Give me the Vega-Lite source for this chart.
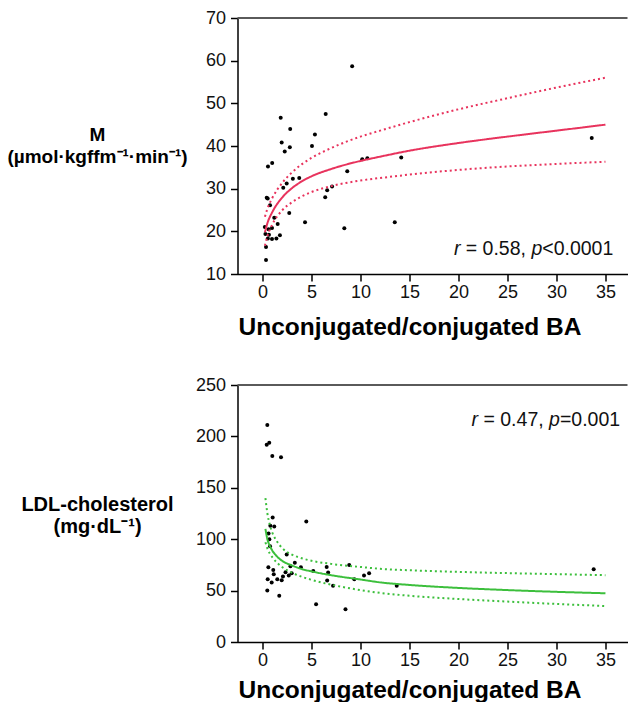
{
  "$schema": "https://vega.github.io/schema/vega-lite/v6.json",
  "padding": {"left": 6.5, "top": 9, "right": 0, "bottom": 0},
  "spacing": 37,
  "config": {
    "font": "Liberation Sans",
    "view": {"stroke": null},
    "axis": {
      "grid": false,
      "domainColor": "#000000",
      "domainWidth": 1.5,
      "tickColor": "#000000",
      "tickWidth": 1.5,
      "labelColor": "#111111",
      "labelFontSize": 18,
      "labelFont": "Liberation Sans",
      "titleFont": "Liberation Sans",
      "titleFontSize": 19,
      "titleFontWeight": "bold",
      "titleColor": "#000000",
      "labelOverlap": false,
      "labelFlush": false
    }
  },
  "datasets": {
    "top_points": [
      {"x": 9.15, "y": 58.7}, {"x": 1.86, "y": 46.6}, {"x": 6.45, "y": 47.5}, {"x": 2.83, "y": 44.0},
      {"x": 5.35, "y": 42.7}, {"x": 1.96, "y": 40.8}, {"x": 5.05, "y": 40.0}, {"x": 2.79, "y": 39.7},
      {"x": 2.27, "y": 38.7}, {"x": 0.99, "y": 36.0}, {"x": 0.56, "y": 35.2}, {"x": 10.18, "y": 36.9},
      {"x": 10.7, "y": 37.1}, {"x": 14.16, "y": 37.3}, {"x": 8.65, "y": 34.1}, {"x": 3.75, "y": 32.5},
      {"x": 3.1, "y": 32.3}, {"x": 2.47, "y": 31.2}, {"x": 2.12, "y": 30.2}, {"x": 0.43, "y": 27.9},
      {"x": 0.53, "y": 27.7}, {"x": 6.6, "y": 29.6}, {"x": 7.1, "y": 30.5}, {"x": 6.4, "y": 28.0},
      {"x": 0.77, "y": 26.1}, {"x": 1.2, "y": 23.2}, {"x": 2.73, "y": 24.3}, {"x": 4.34, "y": 22.1},
      {"x": 8.35, "y": 20.7}, {"x": 13.5, "y": 22.1}, {"x": 1.55, "y": 21.7}, {"x": 0.24, "y": 21.0},
      {"x": 0.62, "y": 20.5}, {"x": 0.97, "y": 20.8}, {"x": 0.3, "y": 19.4}, {"x": 0.66, "y": 19.2},
      {"x": 0.55, "y": 18.3}, {"x": 0.97, "y": 18.2}, {"x": 1.42, "y": 18.3}, {"x": 1.78, "y": 19.1},
      {"x": 0.36, "y": 16.3}, {"x": 0.36, "y": 13.3}, {"x": 33.6, "y": 41.9}
    ],
    "top_curves": [
      {"band": "fit", "x": 0.25, "y": 19.8}, {"band": "fit", "x": 0.5, "y": 21.9}, {"band": "fit", "x": 1, "y": 24.5},
      {"band": "fit", "x": 2, "y": 27.9}, {"band": "fit", "x": 3, "y": 30.1}, {"band": "fit", "x": 4, "y": 31.7},
      {"band": "fit", "x": 5, "y": 32.9}, {"band": "fit", "x": 7, "y": 34.6}, {"band": "fit", "x": 10, "y": 36.5},
      {"band": "fit", "x": 12, "y": 37.5}, {"band": "fit", "x": 15, "y": 38.9}, {"band": "fit", "x": 20, "y": 40.7},
      {"band": "fit", "x": 25, "y": 42.2}, {"band": "fit", "x": 30, "y": 43.6}, {"band": "fit", "x": 35, "y": 45.0},
      {"band": "upper", "x": 0.25, "y": 23.4}, {"band": "upper", "x": 0.5, "y": 25.3}, {"band": "upper", "x": 1, "y": 27.8},
      {"band": "upper", "x": 2, "y": 31.3}, {"band": "upper", "x": 3, "y": 33.8}, {"band": "upper", "x": 4, "y": 35.7},
      {"band": "upper", "x": 5, "y": 37.2}, {"band": "upper", "x": 7, "y": 39.5}, {"band": "upper", "x": 10, "y": 42.2},
      {"band": "upper", "x": 12, "y": 43.6}, {"band": "upper", "x": 15, "y": 45.6}, {"band": "upper", "x": 20, "y": 48.6},
      {"band": "upper", "x": 25, "y": 51.2}, {"band": "upper", "x": 30, "y": 53.7}, {"band": "upper", "x": 35, "y": 56.0},
      {"band": "lower", "x": 0.25, "y": 16.6}, {"band": "lower", "x": 0.5, "y": 18.9}, {"band": "lower", "x": 1, "y": 21.6},
      {"band": "lower", "x": 2, "y": 24.9}, {"band": "lower", "x": 3, "y": 26.8}, {"band": "lower", "x": 4, "y": 28.2},
      {"band": "lower", "x": 5, "y": 29.2}, {"band": "lower", "x": 7, "y": 30.6}, {"band": "lower", "x": 10, "y": 31.9},
      {"band": "lower", "x": 12, "y": 32.5}, {"band": "lower", "x": 15, "y": 33.3}, {"band": "lower", "x": 20, "y": 34.4},
      {"band": "lower", "x": 25, "y": 35.2}, {"band": "lower", "x": 30, "y": 35.8}, {"band": "lower", "x": 35, "y": 36.3}
    ],
    "bottom_points": [
      {"x": 0.49, "y": 211}, {"x": 0.43, "y": 191.8}, {"x": 0.69, "y": 193.8}, {"x": 1.0, "y": 181},
      {"x": 1.89, "y": 179.8}, {"x": 4.47, "y": 117.1}, {"x": 1.04, "y": 121}, {"x": 0.8, "y": 113},
      {"x": 1.2, "y": 112.3}, {"x": 0.62, "y": 105.5}, {"x": 0.7, "y": 100}, {"x": 0.77, "y": 93.2},
      {"x": 2.47, "y": 85.0}, {"x": 3.3, "y": 77.0}, {"x": 0.6, "y": 72.8}, {"x": 3.92, "y": 72.8},
      {"x": 2.85, "y": 73.8}, {"x": 1.1, "y": 70.1}, {"x": 1.15, "y": 66.0}, {"x": 5.18, "y": 69.1},
      {"x": 6.55, "y": 73.0}, {"x": 6.7, "y": 67.7}, {"x": 8.85, "y": 75}, {"x": 2.35, "y": 67.8},
      {"x": 2.68, "y": 64.6}, {"x": 2.98, "y": 66.9}, {"x": 2.09, "y": 63.6}, {"x": 1.51, "y": 61},
      {"x": 1.96, "y": 60}, {"x": 0.53, "y": 61}, {"x": 0.94, "y": 57.9}, {"x": 6.6, "y": 59.8},
      {"x": 7.2, "y": 54.6}, {"x": 9.37, "y": 61.1}, {"x": 10.36, "y": 64.8}, {"x": 10.88, "y": 66.9},
      {"x": 13.7, "y": 54.8}, {"x": 0.49, "y": 50}, {"x": 1.71, "y": 45.0}, {"x": 5.47, "y": 36.8},
      {"x": 8.47, "y": 31.8}, {"x": 33.8, "y": 70.8}
    ],
    "bottom_curves": [
      {"band": "fit", "x": 0.3, "y": 110}, {"band": "fit", "x": 0.5, "y": 100}, {"band": "fit", "x": 0.75, "y": 93.5},
      {"band": "fit", "x": 1, "y": 89}, {"band": "fit", "x": 1.5, "y": 83}, {"band": "fit", "x": 2, "y": 79},
      {"band": "fit", "x": 3, "y": 74.5}, {"band": "fit", "x": 4, "y": 71}, {"band": "fit", "x": 5, "y": 68.7},
      {"band": "fit", "x": 7, "y": 65}, {"band": "fit", "x": 10, "y": 60.8}, {"band": "fit", "x": 12, "y": 58},
      {"band": "fit", "x": 15, "y": 55.5}, {"band": "fit", "x": 20, "y": 52.6}, {"band": "fit", "x": 25, "y": 50.5},
      {"band": "fit", "x": 30, "y": 48.8}, {"band": "fit", "x": 35, "y": 47.4},
      {"band": "upper", "x": 0.3, "y": 140}, {"band": "upper", "x": 0.5, "y": 125}, {"band": "upper", "x": 0.75, "y": 114},
      {"band": "upper", "x": 1, "y": 106.5}, {"band": "upper", "x": 1.5, "y": 97.5}, {"band": "upper", "x": 2, "y": 91.5},
      {"band": "upper", "x": 3, "y": 85}, {"band": "upper", "x": 4, "y": 81.5}, {"band": "upper", "x": 5, "y": 79},
      {"band": "upper", "x": 7, "y": 76}, {"band": "upper", "x": 10, "y": 73}, {"band": "upper", "x": 12, "y": 71.2},
      {"band": "upper", "x": 15, "y": 69.8}, {"band": "upper", "x": 20, "y": 68.2}, {"band": "upper", "x": 25, "y": 67},
      {"band": "upper", "x": 30, "y": 66}, {"band": "upper", "x": 35, "y": 65},
      {"band": "lower", "x": 0.3, "y": 97}, {"band": "lower", "x": 0.5, "y": 91}, {"band": "lower", "x": 0.75, "y": 86},
      {"band": "lower", "x": 1, "y": 82.5}, {"band": "lower", "x": 1.5, "y": 77}, {"band": "lower", "x": 2, "y": 73},
      {"band": "lower", "x": 3, "y": 67.5}, {"band": "lower", "x": 4, "y": 63.5}, {"band": "lower", "x": 5, "y": 60.5},
      {"band": "lower", "x": 7, "y": 55.8}, {"band": "lower", "x": 10, "y": 50.5}, {"band": "lower", "x": 12, "y": 47.8},
      {"band": "lower", "x": 15, "y": 45}, {"band": "lower", "x": 20, "y": 41.8}, {"band": "lower", "x": 25, "y": 39.3},
      {"band": "lower", "x": 30, "y": 37}, {"band": "lower", "x": 35, "y": 35}
    ]
  },
  "vconcat": [
    {
      "width": 390,
      "height": 256,
      "layer": [
        {
          "data": {"name": "top_points"},
          "mark": {"type": "circle", "color": "#000000", "size": 16, "opacity": 1},
          "encoding": {
            "x": {
              "field": "x", "type": "quantitative",
              "scale": {"domain": [-2.55, 37.25], "nice": false, "zero": false},
              "axis": {
                "values": [0, 2.5, 5, 7.5, 10, 12.5, 15, 17.5, 20, 22.5, 25, 27.5, 30, 32.5, 35],
                "labelExpr": "datum.value % 5 === 0 ? format(datum.value, 'd') : ''",
                "tickSize": {"condition": {"test": "datum.value % 5 === 0", "value": 7}, "value": 4},
                "labelPadding": 2,
                "title": "Unconjugated/conjugated BA",
                "titleFontSize": 24.5,
                "titleX": 172, "titleY": 60, "titleAlign": "center", "titleBaseline": "alphabetic", "titleAnchor": null
              }
            },
            "y": {
              "field": "y", "type": "quantitative",
              "scale": {"domain": [10, 70], "nice": false, "zero": false},
              "axis": {
                "values": [10, 15, 20, 25, 30, 35, 40, 45, 50, 55, 60, 65, 70],
                "labelExpr": "datum.value % 10 === 0 ? format(datum.value, 'd') : ''",
                "tickSize": {"condition": {"test": "datum.value % 10 === 0", "value": 7}, "value": 4},
                "labelPadding": 5,
                "title": ["M", "(µmol·kgffm⁻¹·min⁻¹)"],
                "titleFontSize": 19,
                "titleAngle": 0, "titleX": -140.5, "titleY": 122.5, "titleAlign": "center",
                "titleBaseline": "alphabetic", "titleLineHeight": 21.5, "titleAnchor": null
              }
            }
          }
        },
        {
          "data": {"name": "top_curves"},
          "mark": {"type": "line", "color": "#e8335d", "strokeWidth": 2, "interpolate": "monotone", "strokeCap": "butt"},
          "encoding": {
            "x": {"field": "x", "type": "quantitative"},
            "y": {"field": "y", "type": "quantitative"},
            "detail": {"field": "band"},
            "strokeDash": {"field": "band", "type": "nominal", "scale": {"domain": ["fit", "upper", "lower"], "range": [[1, 0], [2, 3], [2, 3]]}, "legend": null}
          }
        },
        {
          "data": {"values": [{}]},
          "mark": {"type": "rule", "color": "#5a5a5a", "strokeWidth": 2},
          "encoding": {"y": {"datum": 70}}
        },
        {
          "data": {"values": [{}]},
          "mark": {"type": "text", "align": "right", "baseline": "alphabetic", "fontSize": 19.5, "color": "#111111"},
          "encoding": {"x": {"datum": 35.8}, "y": {"datum": 14.5}, "text": {"value": "<0.0001"}}
        },
        {
          "data": {"values": [{}]},
          "mark": {"type": "text", "align": "right", "baseline": "alphabetic", "fontSize": 19.5, "fontStyle": "italic", "color": "#111111", "dx": -71.0},
          "encoding": {"x": {"datum": 35.8}, "y": {"datum": 14.5}, "text": {"value": "p"}}
        },
        {
          "data": {"values": [{}]},
          "mark": {"type": "text", "align": "right", "baseline": "alphabetic", "fontSize": 19.5, "color": "#111111", "dx": -87.3},
          "encoding": {"x": {"datum": 35.8}, "y": {"datum": 14.5}, "text": {"value": "= 0.58,"}}
        },
        {
          "data": {"values": [{}]},
          "mark": {"type": "text", "align": "right", "baseline": "alphabetic", "fontSize": 19.5, "fontStyle": "italic", "color": "#111111", "dx": -152.9},
          "encoding": {"x": {"datum": 35.8}, "y": {"datum": 14.5}, "text": {"value": "r"}}
        }
      ]
    },
    {
      "width": 390,
      "height": 257,
      "layer": [
        {
          "data": {"name": "bottom_points"},
          "mark": {"type": "circle", "color": "#000000", "size": 16, "opacity": 1},
          "encoding": {
            "x": {
              "field": "x", "type": "quantitative",
              "scale": {"domain": [-2.55, 37.25], "nice": false, "zero": false},
              "axis": {
                "values": [0, 2.5, 5, 7.5, 10, 12.5, 15, 17.5, 20, 22.5, 25, 27.5, 30, 32.5, 35],
                "labelExpr": "datum.value % 5 === 0 ? format(datum.value, 'd') : ''",
                "tickSize": {"condition": {"test": "datum.value % 5 === 0", "value": 7}, "value": 4},
                "labelPadding": 2,
                "title": "Unconjugated/conjugated BA",
                "titleFontSize": 24.5,
                "titleX": 172, "titleY": 55, "titleAlign": "center", "titleBaseline": "alphabetic", "titleAnchor": null
              }
            },
            "y": {
              "field": "y", "type": "quantitative",
              "scale": {"domain": [0, 250], "nice": false, "zero": false},
              "axis": {
                "values": [0, 25, 50, 75, 100, 125, 150, 175, 200, 225, 250],
                "labelExpr": "datum.value % 50 === 0 ? format(datum.value, 'd') : ''",
                "tickSize": {"condition": {"test": "datum.value % 50 === 0", "value": 7}, "value": 4},
                "labelPadding": 5,
                "title": ["LDL-cholesterol", "(mg·dL⁻¹)"],
                "titleFontSize": 20,
                "titleAngle": 0, "titleX": -140.5, "titleY": 125.7, "titleAlign": "center",
                "titleBaseline": "alphabetic", "titleLineHeight": 21.7, "titleAnchor": null
              }
            }
          }
        },
        {
          "data": {"name": "bottom_curves"},
          "mark": {"type": "line", "color": "#3cbf3c", "strokeWidth": 2, "interpolate": "monotone", "strokeCap": "butt"},
          "encoding": {
            "x": {"field": "x", "type": "quantitative"},
            "y": {"field": "y", "type": "quantitative"},
            "detail": {"field": "band"},
            "strokeDash": {"field": "band", "type": "nominal", "scale": {"domain": ["fit", "upper", "lower"], "range": [[1, 0], [2, 3], [2, 3]]}, "legend": null}
          }
        },
        {
          "data": {"values": [{}]},
          "mark": {"type": "rule", "color": "#5a5a5a", "strokeWidth": 2},
          "encoding": {"y": {"datum": 250}}
        },
        {
          "data": {"values": [{}]},
          "mark": {"type": "text", "align": "right", "baseline": "alphabetic", "fontSize": 19.5, "color": "#111111"},
          "encoding": {"x": {"datum": 36.5}, "y": {"datum": 210.3}, "text": {"value": "=0.001"}}
        },
        {
          "data": {"values": [{}]},
          "mark": {"type": "text", "align": "right", "baseline": "alphabetic", "fontSize": 19.5, "fontStyle": "italic", "color": "#111111", "dx": -60.2},
          "encoding": {"x": {"datum": 36.5}, "y": {"datum": 210.3}, "text": {"value": "p"}}
        },
        {
          "data": {"values": [{}]},
          "mark": {"type": "text", "align": "right", "baseline": "alphabetic", "fontSize": 19.5, "color": "#111111", "dx": -76.5},
          "encoding": {"x": {"datum": 36.5}, "y": {"datum": 210.3}, "text": {"value": "= 0.47,"}}
        },
        {
          "data": {"values": [{}]},
          "mark": {"type": "text", "align": "right", "baseline": "alphabetic", "fontSize": 19.5, "fontStyle": "italic", "color": "#111111", "dx": -142.1},
          "encoding": {"x": {"datum": 36.5}, "y": {"datum": 210.3}, "text": {"value": "r"}}
        }
      ]
    }
  ]
}
